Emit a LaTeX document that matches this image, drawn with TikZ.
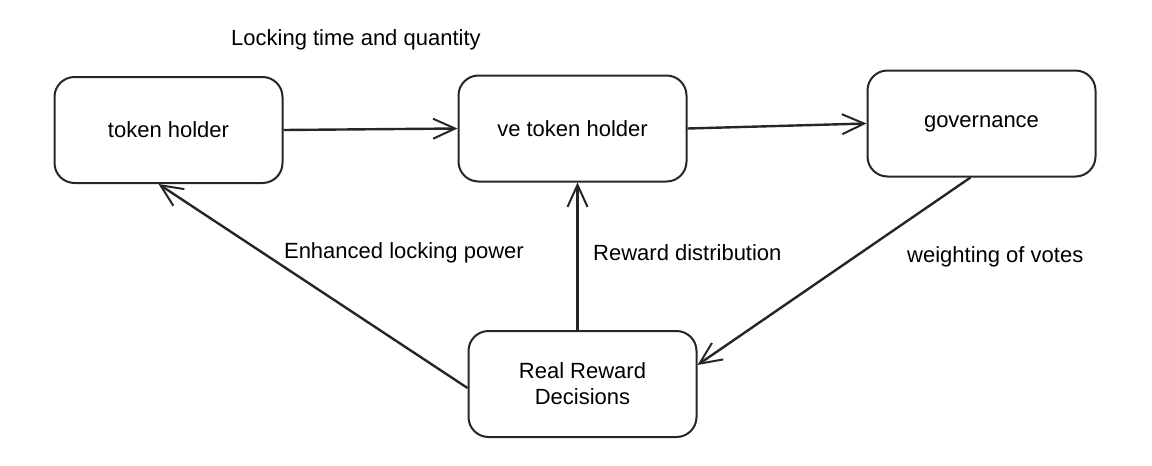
\documentclass[tikz,border=0pt]{standalone}
\usepackage{fontspec}
\setmainfont{Liberation Sans}
\usetikzlibrary{arrows.meta}
\begin{document}
\begin{tikzpicture}[x=1pt,y=-1pt,
  box/.style={draw=black!85, line width=2pt, rounded corners=20pt, minimum width=228pt, minimum height=106pt, inner sep=0pt, align=center, font=\fontsize{22}{26}\selectfont, fill=white},
  lbl/.style={font=\fontsize{22}{24}\selectfont, inner sep=0pt},
  conn/.style={draw=black!85, line width=2.4pt, -{Straight Barb[length=22pt,width=20pt,line width=2pt]}}]
\useasboundingbox (0,0) rectangle (1152,466);
\node[box] (th) at (168.5,130) {token holder};
\node[box] (ve) at (572.5,128.5) {ve token holder};
\node[box] (gov) at (981.5,123.5) {governance};
\node[box] (rrd) at (582.5,384) {Real Reward\\Decisions};
\node[lbl, anchor=west] (l1) at (231,40) {Locking time and quantity};
\node[lbl, anchor=east] (l2) at (524,253) {Enhanced locking power};
\node[lbl, anchor=west] (l3) at (593,253) {Reward distribution};
\node[lbl, anchor=west] (l4) at (907,257) {weighting of votes};
\draw[conn] (th.east) -- (ve.west);
\draw[conn] (ve.east) -- (gov.west);
\draw[conn] ([xshift=-11pt]gov.south) -- ([yshift=19pt]rrd.east);
\draw[conn] ([xshift=-5pt]rrd.north) -- ([xshift=5pt]ve.south);
\draw[conn] ([yshift=-4pt]rrd.west) -- ([xshift=-10pt]th.south);
\end{tikzpicture}
\end{document}
